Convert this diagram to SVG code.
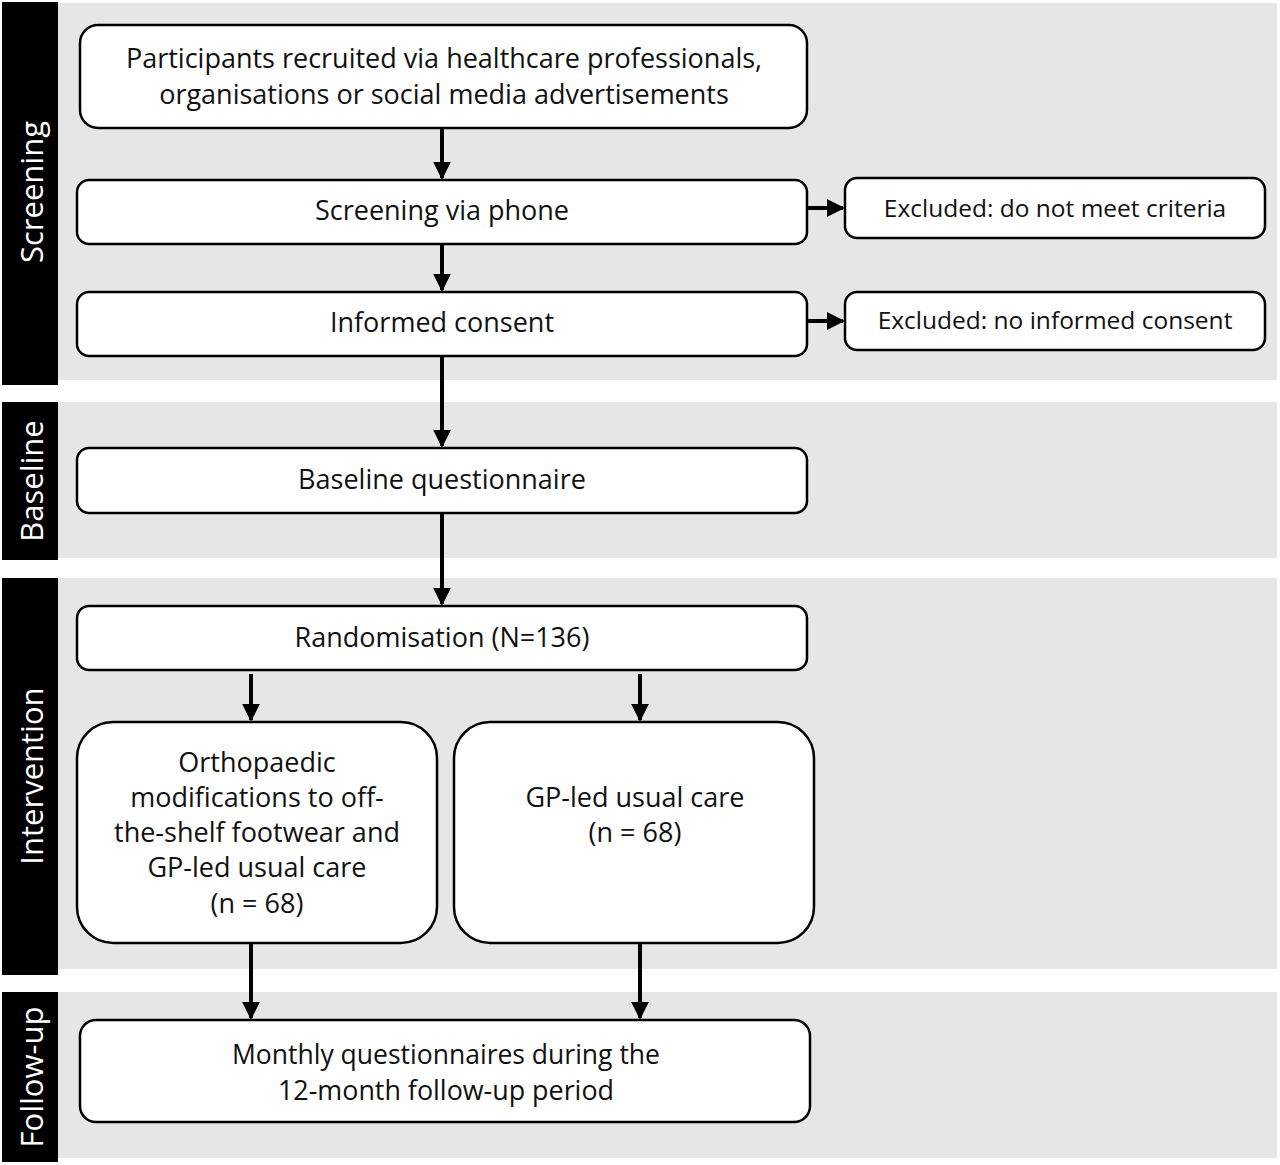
<svg xmlns="http://www.w3.org/2000/svg" width="1280" height="1165" viewBox="0 0 1280 1165">
<defs>
<style>
.lane{fill:#e6e6e6}
.tab{fill:#000}
.tabt{fill:#fff;font-family:"Open Sans","Liberation Sans",sans-serif;font-size:31px;text-anchor:middle;dominant-baseline:central}
.box{fill:#fff;stroke:#000;stroke-width:2.5}
.t{fill:#111;font-family:"Open Sans","Liberation Sans",sans-serif;font-size:27px;text-anchor:middle}
.s{font-size:24.5px}
.c{stroke:#000;stroke-width:4;fill:none;marker-end:url(#ah)}
</style>
<marker id="ah" viewBox="0 0 10 10" refX="9" refY="5" markerWidth="4.5" markerHeight="4.5" orient="auto" markerUnits="strokeWidth">
<path d="M0,0 L10,5 L0,10 z" fill="#000"/>
</marker>
</defs>
<rect width="1280" height="1165" fill="#fff"/>
<g id="lanes">
<rect class="lane" x="58" y="3" width="1219" height="377"/>
<rect class="tab" x="2" y="2" width="56" height="383"/>
<text class="tabt" transform="translate(31,192) rotate(-90)">Screening</text>
<rect class="lane" x="58" y="402" width="1219" height="156"/>
<rect class="tab" x="2" y="402" width="56" height="158"/>
<text class="tabt" transform="translate(31,481) rotate(-90)">Baseline</text>
<rect class="lane" x="58" y="578" width="1219" height="391"/>
<rect class="tab" x="2" y="578" width="56" height="397"/>
<text class="tabt" transform="translate(31,776) rotate(-90)">Intervention</text>
<rect class="lane" x="58" y="992" width="1219" height="166"/>
<rect class="tab" x="2" y="992" width="56" height="170"/>
<text class="tabt" transform="translate(31,1077) rotate(-90)">Follow-up</text>
</g>
<g id="connectors">
<path class="c" d="M442,128 V178"/>
<path class="c" d="M442,244 V290"/>
<path class="c" d="M442,356 V446"/>
<path class="c" d="M442,513 V604"/>
<path class="c" d="M251,674 V720"/>
<path class="c" d="M640,674 V720"/>
<path class="c" d="M251,943 V1018"/>
<path class="c" d="M640,943 V1018"/>
<path class="c" d="M807,208 H843"/>
<path class="c" d="M807,321 H843"/>
</g>
<g id="n1"><rect class="box" x="80" y="25" width="727" height="103" rx="18"/>
<text class="t" x="444" y="68">Participants recruited via healthcare professionals,</text>
<text class="t" x="444" y="104">organisations or social media advertisements</text></g>
<g id="n2"><rect class="box" x="77" y="180" width="730" height="64" rx="12"/>
<text class="t" x="442" y="220">Screening via phone</text></g>
<g id="n3"><rect class="box" x="845" y="178" width="420" height="60" rx="12"/>
<text class="t s" x="1055" y="217">Excluded: do not meet criteria</text></g>
<g id="n4"><rect class="box" x="77" y="292" width="730" height="64" rx="12"/>
<text class="t" x="442" y="332">Informed consent</text></g>
<g id="n5"><rect class="box" x="845" y="292" width="420" height="58" rx="12"/>
<text class="t s" x="1055" y="329">Excluded: no informed consent</text></g>
<g id="n6"><rect class="box" x="77" y="448" width="730" height="65" rx="12"/>
<text class="t" x="442" y="489">Baseline questionnaire</text></g>
<g id="n7"><rect class="box" x="77" y="606" width="730" height="64" rx="12"/>
<text class="t" x="442" y="647">Randomisation (N=136)</text></g>
<g id="n8"><rect class="box" x="77" y="722" width="360" height="221" rx="36"/>
<text class="t" x="257" y="772">Orthopaedic</text>
<text class="t" x="257" y="807">modifications to off-</text>
<text class="t" x="257" y="842">the-shelf footwear and</text>
<text class="t" x="257" y="877">GP-led usual care</text>
<text class="t" x="257" y="913">(n = 68)</text></g>
<g id="n9"><rect class="box" x="454" y="722" width="360" height="221" rx="36"/>
<text class="t" x="635" y="807">GP-led usual care</text>
<text class="t" x="635" y="842">(n = 68)</text></g>
<g id="n10"><rect class="box" x="80" y="1020" width="730" height="102" rx="16"/>
<text class="t" x="446" y="1064" textLength="428" lengthAdjust="spacingAndGlyphs">Monthly questionnaires during the</text>
<text class="t" x="446" y="1100" textLength="336" lengthAdjust="spacingAndGlyphs">12-month follow-up period</text></g>
</svg>
